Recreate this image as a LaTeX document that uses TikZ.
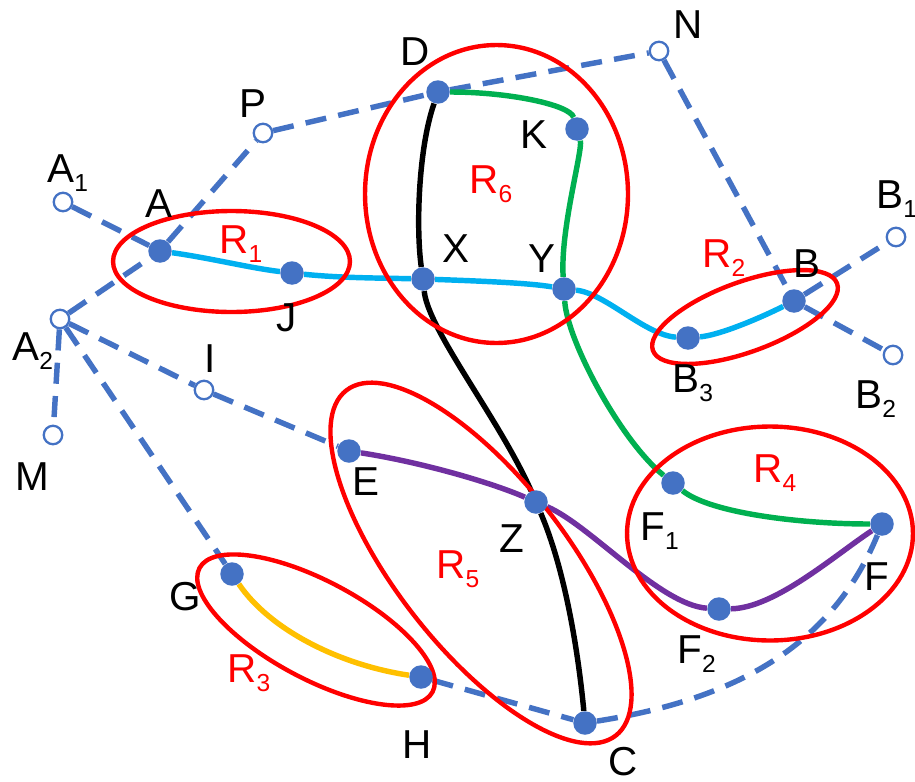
\documentclass[tikz,border=0pt]{standalone}
\usepackage{fontspec}
\setmainfont{Liberation Sans}
\usetikzlibrary{backgrounds}
\definecolor{nblue}{HTML}{4472C4}
\definecolor{ccyan}{HTML}{00B0F0}
\definecolor{cgreen}{HTML}{00B050}
\definecolor{cpurple}{HTML}{7030A0}
\definecolor{cyellow}{HTML}{FFC000}
\newcommand\lsub[1]{\raisebox{-5.5pt}{\fontsize{14}{14}\selectfont #1}}
\begin{document}
\begin{tikzpicture}[x=0.02cm,y=0.02cm,
  opn/.style={circle, draw=nblue, fill=white, line width=1.3pt, minimum size=0.37cm, inner sep=0pt},
  fld/.style={circle, fill=nblue, minimum size=0.47cm, inner sep=0pt},
  dsh/.style={draw=nblue, line width=3.1pt, dash pattern=on 12pt off 7pt},
  lbl/.style={font=\fontsize{23}{28}\selectfont, inner sep=0pt, anchor=base west},
  rlbl/.style={lbl, text=red},
  ring/.style={draw=red, line width=2.5pt},
  crv/.style={line width=3.1pt}]
\useasboundingbox (0,0) rectangle (915,-781);
% open nodes
\node[opn] (A1) at (63,-202) {};
\node[opn] (A2) at (60,-319) {};
\node[opn] (M) at (53,-435) {};
\node[opn] (P) at (263,-133) {};
\node[opn] (N) at (659,-51) {};
\node[opn] (I) at (204,-390) {};
\node[opn] (B1) at (896,-237) {};
\node[opn] (B2) at (893,-355) {};
% filled nodes
\node[fld] (A) at (160,-251) {};
\node[fld] (J) at (292,-273) {};
\node[fld] (X) at (423,-279) {};
\node[fld] (Y) at (564,-289) {};
\node[fld] (D) at (438,-92) {};
\node[fld] (K) at (577,-129) {};
\node[fld] (B) at (794,-301) {};
\node[fld] (B3) at (688,-338) {};
\node[fld] (E) at (349,-451) {};
\node[fld] (Z) at (536,-502) {};
\node[fld] (F1) at (673,-483) {};
\node[fld] (F) at (882,-524) {};
\node[fld] (F2) at (719,-609) {};
\node[fld] (G) at (232,-574) {};
\node[fld] (H) at (421,-677) {};
\node[fld] (C) at (585,-723) {};
% labels
\node[lbl] (tA1) at (47,-182) {A\lsub{1}};
\node[lbl] (tA) at (145,-217) {A};
\node[lbl] (tA2) at (12,-360) {A\lsub{2}};
\node[lbl] (tM) at (15,-490) {M};
\node[lbl] (tP) at (239,-117) {P};
\node[lbl] (tD) at (400,-65) {D};
\node[lbl] (tK) at (520,-148) {K};
\node[lbl] (tX) at (442,-262) {X};
\node[lbl] (tY) at (528,-272) {Y};
\node[lbl] (tN) at (673,-38) {N};
\node[lbl] (tB1) at (876,-208) {B\lsub{1}};
\node[lbl] (tB) at (793,-277) {B};
\node[lbl] (tB3) at (672,-392) {B\lsub{3}};
\node[lbl] (tB2) at (855,-408) {B\lsub{2}};
\node[lbl] (tJ) at (276,-331) {J};
\node[lbl] (tI) at (204,-372) {I};
\node[lbl] (tE) at (352,-495) {E};
\node[lbl] (tZ) at (499,-552) {Z};
\node[lbl] (tF1) at (640,-540) {F\lsub{1}};
\node[lbl] (tF) at (864,-590) {F};
\node[lbl] (tF2) at (677,-663) {F\lsub{2}};
\node[lbl] (tG) at (169,-610) {G};
\node[lbl] (tH) at (402,-758) {H};
\node[lbl] (tC) at (608,-775) {C};
\node[rlbl] (tR1) at (219,-253) {R\lsub{1}};
\node[rlbl] (tR2) at (702,-267) {R\lsub{2}};
\node[rlbl] (tR3) at (227,-682) {R\lsub{3}};
\node[rlbl] (tR4) at (753,-482) {R\lsub{4}};
\node[rlbl] (tR5) at (436,-578) {R\lsub{5}};
\node[rlbl] (tR6) at (469,-193) {R\lsub{6}};
\begin{scope}[on background layer]
% dashed connectors
\draw[dsh] (A1) -- (A);
\draw[dsh] (A2) -- (A);
\draw[dsh] (A) -- (P);
\draw[dsh] (P) -- (D);
\draw[dsh] (D) -- (N);
\draw[dsh] (N) -- (B);
\draw[dsh] (B) -- (B1);
\draw[dsh] (B) -- (B2);
\draw[dsh] (A2) -- (M);
\draw[dsh] (A2) -- (I);
\draw[dsh] (I) -- (E);
\draw[dsh] (A2) -- (G);
\draw[dsh] (H) -- (C);
\draw[dsh] (C) .. controls (730,-700) and (830,-650) .. (F);
% solid curves
\draw[crv, ccyan] (A) .. controls (210,-258) and (250,-268) .. (J)
  .. controls (340,-278) and (380,-278) .. (X)
  .. controls (480,-281) and (530,-283) .. (Y)
  .. controls (605,-293) and (645,-335) .. (B3)
  .. controls (720,-335) and (760,-318) .. (B);
\draw[crv, black] (D) .. controls (418,-150) and (416,-230) .. (X)
  .. controls (428,-330) and (500,-420) .. (Z)
  .. controls (565,-570) and (578,-650) .. (C);
\draw[crv, cgreen] (D) .. controls (510,-92) and (570,-105) .. (K)
  .. controls (583,-150) and (560,-230) .. (Y)
  .. controls (567,-340) and (620,-440) .. (F1)
  .. controls (710,-513) and (800,-524) .. (F);
\draw[crv, cpurple] (E) .. controls (420,-462) and (490,-482) .. (Z)
  .. controls (590,-525) and (660,-605) .. (F2)
  .. controls (775,-608) and (835,-555) .. (F);
\draw[crv, cyellow] (G) .. controls (270,-630) and (340,-665) .. (H);
% regions
\draw[ring] (231.5,-261.5) ellipse [x radius=2.37cm, y radius=1.01cm];
\draw[ring] (496.5,-194) ellipse [x radius=2.63cm, y radius=2.98cm];
\draw[ring, rotate around={20:(745,-317)}] (745,-317) ellipse [x radius=1.96cm, y radius=0.70cm];
\draw[ring] (770,-533.5) ellipse [x radius=2.86cm, y radius=2.14cm];
\draw[ring, rotate around={-52:(481,-563)}] (481,-563) ellipse [x radius=4.38cm, y radius=1.70cm];
\draw[ring, rotate around={-28:(316,-630)}] (316,-630) ellipse [x radius=2.64cm, y radius=0.98cm];
\end{scope}
\end{tikzpicture}
\end{document}
